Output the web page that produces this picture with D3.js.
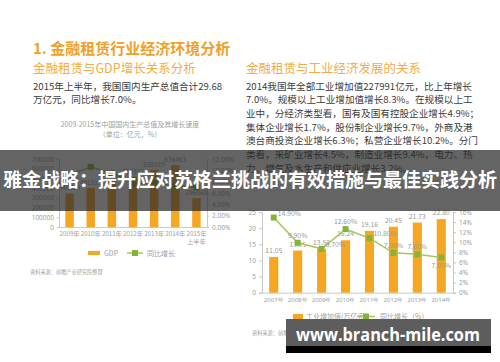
<!DOCTYPE html>
<html>
<head>
<meta charset="utf-8">
<script src="https://cdn.jsdelivr.net/npm/d3@7/dist/d3.min.js"></script>
<style>
  body { margin: 0; background: #fff; }
  svg { display: block; font-family: "Noto Sans CJK SC", "Noto Sans", sans-serif; }
  .axis path, .axis line { stroke: #c8c8c8; }
  .axis text { fill: #a0a0a0; font-size: 6.5px; font-family: "Noto Sans", sans-serif; }
</style>
</head>
<body>
<div id="chart"></div>
<script>
// data
var gdpYears = ['2009年', '2010年', '2011年', '2012年', '2013年', '2014年', '2015年上半年'];
var gdpValues = [345629, 401513, 473104, 519322, 588019, 636463, 296868];
var gdpGrowth = [9.2, 10.6, 9.5, 7.7, 7.7, 7.3, 7.0];
var gdpTicks = [0, 100000, 200000, 300000, 400000, 500000, 600000, 700000];
var gdpPctTicks = [0, 2, 4, 6, 8, 10, 12];

var indYears = ['2007年', '2008年', '2009年', '2010年', '2011年', '2012年', '2013年', '2014年'];
var indValues = [11.05, 13.05, 13.52, 16.24, 19.16, 20.45, 21.73, 22.80];
var indGrowth = [14.9, 9.9, 8.7, 12.6, 10.8, 7.9, 7.6, 7.0];
var indTicks = [0, 5, 10, 15, 20, 25];
var indPctTicks = [0, 2, 4, 6, 8, 10, 12, 14, 16];
var indPctPlace = ['right', 'above', 'right', 'above', 'right', 'above', 'above', 'below'];

var leftText = ['2015年上半年，我国国内生产总值合计29.68', '万亿元，同比增长7.0%。'];
var rightText = [
    '2014我国年全部工业增加值227991亿元，比上年增长',
    '7.0%。规模以上工业增加值增长8.3%。在规模以上工',
    '业中，分经济类型看，国有及国有控股企业增长4.9%；',
    '集体企业增长1.7%，股份制企业增长9.7%，外商及港',
    '澳台商投资企业增长6.3%；私营企业增长10.2%。分门',
    '类看，采矿业增长4.5%，制造业增长9.4%，电力、热',
    '力、燃气及水生产和供应业增长3.2%。'
];

var orange = '#f5a623';
var green = '#a8c85a';
var greenDot = '#86b23a';

var svg = d3.select('#chart').append('svg')
    .attr('width', 500)
    .attr('height', 362);

// headings
svg.append('text').attr('x', 33).attr('y', 53.5)
    .style('font-size', '15px').style('font-weight', 'bold').style('fill', '#f0a028')
    .text('1. 金融租赁行业经济环境分析');
svg.append('text').attr('x', 33).attr('y', 73)
    .style('font-size', '12.5px').style('fill', '#f2ad45')
    .text('金融租赁与GDP增长关系分析');
svg.append('text').attr('x', 246).attr('y', 73)
    .style('font-size', '12.5px').style('fill', '#f2ad45')
    .text('金融租赁与工业经济发展的关系');

svg.selectAll('.ltxt').data(leftText).enter().append('text')
    .attr('x', 33).attr('y', (d, i) => 89.5 + i * 13.7)
    .style('font-size', '9.6px').style('fill', '#3c3c3c')
    .text(d => d);
svg.selectAll('.rtxt').data(rightText).enter().append('text')
    .attr('x', 246).attr('y', (d, i) => 89.5 + i * 13.7)
    .style('font-size', '9.6px').style('fill', '#3c3c3c')
    .text(d => d);

// left chart
svg.append('text').attr('x', 130).attr('y', 127).attr('text-anchor', 'middle')
    .style('font-size', '7px').style('fill', '#a0a0a0')
    .text('2009-2015年中国国内生产总值及其增长速度');
svg.append('text').attr('x', 130).attr('y', 137).attr('text-anchor', 'middle')
    .style('font-size', '7px').style('fill', '#a0a0a0')
    .text('（单位：亿元，%）');

var xL = d3.scaleBand().domain(gdpYears).range([59, 207]).paddingInner(0.6).paddingOuter(0.3);
var yL = d3.scaleLinear().domain([0, 700000]).range([227, 159]);
var yLR = d3.scaleLinear().domain([0, 12]).range([227, 159]);

svg.append('g').attr('class', 'axis').attr('transform', 'translate(59,0)')
    .call(d3.axisLeft(yL).tickValues(gdpTicks).tickSize(2).tickFormat(d3.format('d')));
svg.append('g').attr('class', 'axis').attr('transform', 'translate(207,0)')
    .call(d3.axisRight(yLR).tickValues(gdpPctTicks).tickSize(2).tickFormat(d => d.toFixed(2) + '%'));
svg.append('g').attr('class', 'axis').attr('transform', 'translate(0,227)')
    .call(d3.axisBottom(xL).tickSize(0).tickFormat(''));

var xlab = svg.selectAll('.xlabL').data(gdpYears).enter().append('text')
    .attr('x', d => xL(d) + xL.bandwidth() / 2).attr('y', 236)
    .attr('text-anchor', 'middle')
    .style('font-size', '6.2px').style('fill', '#a0a0a0');
xlab.append('tspan').text(d => d.slice(0, 5));
xlab.append('tspan').attr('x', d => xL(d) + xL.bandwidth() / 2).attr('dy', 7.5)
    .text(d => d.slice(5));

svg.selectAll('.barL').data(gdpValues).enter().append('rect')
    .attr('x', (d, i) => xL(gdpYears[i])).attr('width', xL.bandwidth())
    .attr('y', d => yL(d)).attr('height', d => 227 - yL(d))
    .style('fill', orange);
svg.selectAll('.barLabL').data(gdpValues).enter().append('text')
    .attr('x', (d, i) => xL(gdpYears[i]) + xL.bandwidth() / 2).attr('y', d => yL(d) - 3)
    .attr('text-anchor', 'middle')
    .style('font-size', '6.5px').style('fill', '#999')
    .text(d => d);

var lineL = d3.line()
    .x((d, i) => xL(gdpYears[i]) + xL.bandwidth() / 2)
    .y(d => yLR(d));
svg.append('path').datum(gdpGrowth).attr('d', lineL)
    .style('fill', 'none').style('stroke', green).style('stroke-width', 1.5);
svg.selectAll('.dotL').data(gdpGrowth).enter().append('rect')
    .attr('x', (d, i) => xL(gdpYears[i]) + xL.bandwidth() / 2 - 3).attr('y', d => yLR(d) - 3)
    .attr('width', 6).attr('height', 6).style('fill', greenDot);

// left legend + source
svg.append('rect').attr('x', 88).attr('y', 251).attr('width', 12).attr('height', 4).style('fill', orange);
svg.append('text').attr('x', 104).attr('y', 256).style('font-size', '7px').style('fill', '#a0a0a0').text('GDP');
svg.append('line').attr('x1', 127).attr('x2', 143).attr('y1', 253).attr('y2', 253).style('stroke', green).style('stroke-width', 1.5);
svg.append('rect').attr('x', 132).attr('y', 250).attr('width', 6).attr('height', 6).style('fill', greenDot);
svg.append('text').attr('x', 147).attr('y', 256).style('font-size', '7px').style('fill', '#a0a0a0').text('同比增长');
svg.append('text').attr('x', 30).attr('y', 274).style('font-size', '5.2px').style('fill', '#a0a0a0').text('资料来源：前瞻产业研究院整理');

// right chart
var xR = d3.scaleBand().domain(indYears).range([262, 453]).paddingInner(0.62).paddingOuter(0.3);
var yR = d3.scaleLinear().domain([0, 25]).range([292.7, 212]);
var yRR = d3.scaleLinear().domain([0, 16]).range([292.7, 212]);

svg.append('g').attr('class', 'axis').attr('transform', 'translate(262,0)')
    .call(d3.axisLeft(yR).tickValues(indTicks).tickSize(3));
svg.append('g').attr('class', 'axis').attr('transform', 'translate(453,0)')
    .call(d3.axisRight(yRR).tickValues(indPctTicks).tickSize(3).tickFormat(d => d + '%'));
svg.append('g').attr('class', 'axis x-ind').attr('transform', 'translate(0,292.7)')
    .call(d3.axisBottom(xR).tickSize(0).tickPadding(5));
svg.selectAll('.x-ind text').style('font-size', '6px');

svg.selectAll('.barR').data(indValues).enter().append('rect')
    .attr('x', (d, i) => xR(indYears[i])).attr('width', xR.bandwidth())
    .attr('y', d => yR(d)).attr('height', d => 292.7 - yR(d))
    .style('fill', orange);
svg.selectAll('.barLabR').data(indValues).enter().append('text')
    .attr('x', (d, i) => xR(indYears[i]) + xR.bandwidth() / 2).attr('y', d => yR(d) - 4)
    .attr('text-anchor', 'middle')
    .style('font-size', '6.8px').style('fill', '#999')
    .text(d => d.toFixed(2));

var lineR = d3.line()
    .x((d, i) => xR(indYears[i]) + xR.bandwidth() / 2)
    .y(d => yRR(d));
svg.append('path').datum(indGrowth).attr('d', lineR)
    .style('fill', 'none').style('stroke', green).style('stroke-width', 1.5);
svg.selectAll('.dotR').data(indGrowth).enter().append('rect')
    .attr('x', (d, i) => xR(indYears[i]) + xR.bandwidth() / 2 - 3).attr('y', d => yRR(d) - 3)
    .attr('width', 6).attr('height', 6).style('fill', greenDot);
svg.selectAll('.pctR').data(indGrowth).enter().append('text')
    .attr('x', (d, i) => xR(indYears[i]) + xR.bandwidth() / 2 + (indPctPlace[i] == 'right' ? 4 : 0))
    .attr('y', (d, i) => yRR(d) + (indPctPlace[i] == 'below' ? 11 : (indPctPlace[i] == 'right' ? -2 : -5)))
    .attr('text-anchor', (d, i) => indPctPlace[i] == 'right' ? 'start' : 'middle')
    .style('font-size', '6.8px').style('fill', '#999')
    .text(d => d.toFixed(2) + '%');

// right legend + source
svg.append('rect').attr('x', 293).attr('y', 314).attr('width', 10).attr('height', 5).style('fill', orange);
svg.append('text').attr('x', 306).attr('y', 319).style('font-size', '7px').style('fill', '#a0a0a0').text('工业增加值(万亿元)');
svg.append('line').attr('x1', 357).attr('x2', 375).attr('y1', 316.5).attr('y2', 316.5).style('stroke', green).style('stroke-width', 1.5);
svg.append('rect').attr('x', 363).attr('y', 313.5).attr('width', 6).attr('height', 6).style('fill', greenDot);
svg.append('text').attr('x', 380).attr('y', 319).style('font-size', '7px').style('fill', '#a0a0a0').text('同比增长（%）');
svg.append('text').attr('x', 252).attr('y', 335).style('font-size', '5.2px').style('fill', '#a0a0a0').text('资料来源：前瞻产业研究院整理');

// banner over the page
svg.append('rect').attr('x', 0).attr('y', 150).attr('width', 500).attr('height', 61)
    .style('fill', 'rgba(40,40,40,0.72)');
svg.append('text').attr('x', 3).attr('y', 187)
    .style('font-size', '19px').style('font-weight', 'bold').style('fill', '#fff')
    .text('雅金战略：提升应对苏格兰挑战的有效措施与最佳实践分析');

// url box
svg.append('rect').attr('x', 286).attr('y', 319).attr('width', 205).attr('height', 27).style('fill', '#5d5d5d');
svg.append('rect').attr('x', 286).attr('y', 346).attr('width', 205).attr('height', 7).style('fill', '#000');
svg.append('text').attr('x', 296).attr('y', 341)
    .attr('textLength', 184).attr('lengthAdjust', 'spacingAndGlyphs')
    .style('font-size', '17px').style('font-weight', 'bold').style('fill', '#fff')
    .style('font-family', '"Open Sans", "DejaVu Sans", sans-serif')
    .text('www.branch-mile.com');
</script>
</body>
</html>
